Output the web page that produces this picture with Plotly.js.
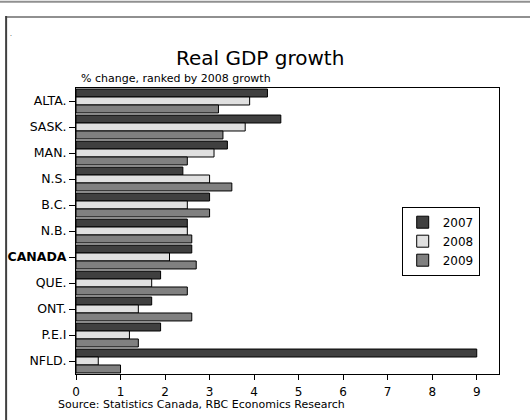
<!DOCTYPE html>
<html>
<head>
<meta charset="utf-8">
<script src="https://cdn.plot.ly/plotly-3.0.1.min.js"></script>
<style>
html,body{margin:0;padding:0;background:#fff;}
#chart{width:530px;height:420px;}
</style>
</head>
<body>
<div id="chart"></div>
<script>
const provinces = ["ALTA.", "SASK.", "MAN.", "N.S.", "B.C.", "N.B.", "<b>CANADA</b>", "QUE.", "ONT.", "P.E.I", "NFLD."];
const growth2007 = [4.3, 4.6, 3.4, 2.4, 3.0, 2.5, 2.6, 1.9, 1.7, 1.9, 9.0];
const growth2008 = [3.9, 3.8, 3.1, 3.0, 2.5, 2.5, 2.1, 1.7, 1.4, 1.2, 0.5];
const growth2009 = [3.2, 3.3, 2.5, 3.5, 3.0, 2.6, 2.7, 2.5, 2.6, 1.4, 1.0];
const seriesNames = ["2007", "2008", "2009"];
const xTicks = [0, 1, 2, 3, 4, 5, 6, 7, 8, 9];

const colors = ["#404040", "#e0e0e0", "#808080"];
const seriesValues = [growth2007, growth2008, growth2009];

const traces = seriesValues.map((vals, i) => ({
  type: "bar",
  orientation: "h",
  name: seriesNames[i],
  x: vals,
  y: provinces,
  marker: {color: colors[i], line: {color: "#000", width: 1}},
  hoverinfo: "x+name"
}));

const font = "DejaVu Sans, sans-serif";

const layout = {
  width: 530,
  height: 420,
  margin: {l: 75.5, r: 30.7, t: 88, b: 46, pad: 0},
  paper_bgcolor: "#fff",
  plot_bgcolor: "#fff",
  font: {family: font, size: 11, color: "#000"},
  barmode: "group",
  bargap: 0.08,
  bargroupgap: 0,
  showlegend: true,
  legend: {
    x: 0.77, y: 0.585, xanchor: "left", yanchor: "top",
    bgcolor: "#fff", bordercolor: "#000", borderwidth: 1,
    font: {family: font, size: 12, color: "#000"},
    traceorder: "normal", itemwidth: 30, tracegroupgap: 0
  },
  xaxis: {
    range: [0, 9.5],
    tickvals: xTicks,
    ticktext: xTicks.map(String),
    ticks: "outside", ticklen: 5, tickcolor: "#000",
    ticklabelstandoff: 2,
    showline: true, linecolor: "#000", linewidth: 1, mirror: true,
    showgrid: false, zeroline: false,
    tickfont: {family: font, size: 12, color: "#000"}
  },
  yaxis: {
    autorange: "reversed",
    ticks: "outside", ticklen: 6, tickcolor: "#000",
    showline: true, linecolor: "#000", linewidth: 1, mirror: true,
    showgrid: false, zeroline: false,
    tickfont: {family: font, size: 12.5, color: "#000"}
  },
  annotations: [
    {text: "Real GDP growth", xref: "paper", yref: "paper", x: 0.4354, y: 1.104,
     xanchor: "center", yanchor: "middle", showarrow: false,
     font: {family: font, size: 20, color: "#000"}},
    {text: "% change, ranked by 2008 growth", xref: "paper", yref: "paper", x: 0.006, y: 1.033,
     xanchor: "left", yanchor: "middle", showarrow: false,
     font: {family: font, size: 11, color: "#000"}},
    {text: "Source: Statistics Canada, RBC Economics Research", xref: "paper", yref: "paper", x: -0.0484, y: -0.108,
     xanchor: "left", yanchor: "middle", showarrow: false,
     font: {family: font, size: 11, color: "#000"}},
    {text: ".", xref: "paper", yref: "paper", x: -0.1545, y: 1.19,
     xanchor: "center", yanchor: "middle", showarrow: false,
     font: {family: font, size: 6, color: "#000"}}
  ],
  shapes: [
    {type: "line", xref: "paper", yref: "paper", x0: -0.18, x1: 1.08, y0: 1.302, y1: 1.302,
     line: {color: "#909090", width: 2}},
    {type: "line", xref: "paper", yref: "paper", x0: -0.1664, x1: 1.08, y0: 1.248, y1: 1.248,
     line: {color: "#909090", width: 2}},
    {type: "line", xref: "paper", yref: "paper", x0: -0.1652, x1: -0.1652, y0: 1.252, y1: -0.2,
     line: {color: "#404040", width: 2}}
  ]
};

Plotly.newPlot("chart", traces, layout, {displayModeBar: false, staticPlot: true});
</script>
</body>
</html>
